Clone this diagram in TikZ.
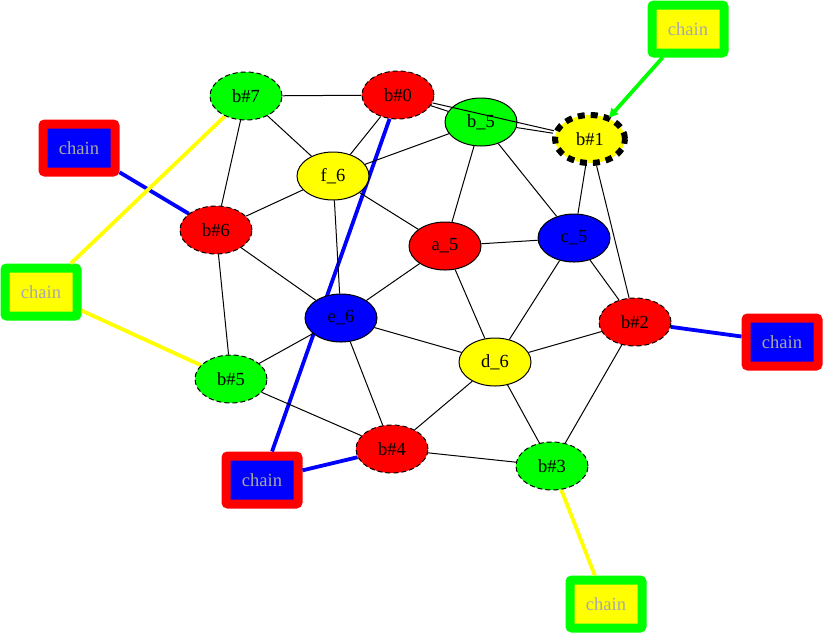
\documentclass[tikz,border=0pt]{standalone}
\usepackage{fontspec}
\setmainfont{Liberation Serif}
\usetikzlibrary{shapes.geometric,arrows.meta}
\definecolor{gG}{RGB}{0,255,0}
\definecolor{gR}{RGB}{255,0,0}
\definecolor{gB}{RGB}{0,0,255}
\definecolor{gY}{RGB}{255,255,0}
\definecolor{chaintxt}{RGB}{168,168,168}
\tikzset{
  vtx/.style={ellipse, draw=black, line width=1pt, minimum width=72pt, minimum height=48pt, inner sep=0pt,
    font=\fontsize{18.5}{20}\selectfont, text=black},
  bvtx/.style={vtx, dash pattern=on 5pt off 3pt},
  chainbox/.style={rectangle, rounded corners=2pt, line width=9pt, minimum width=72pt, minimum height=48pt,
    inner sep=0pt, font=\fontsize{18.5}{20}\selectfont, text=chaintxt},
  edge/.style={draw=black, line width=1pt},
  link/.style={line width=3.8pt},
}
\begin{document}
\begin{tikzpicture}[x=1pt,y=-1pt]
\useasboundingbox (0,0) rectangle (824,633);
% chain nodes
\node[chainbox, draw=gG, fill=gY] (ch1) at (688,29) {chain};
\node[chainbox, draw=gR, fill=gB] (ch2) at (79,148) {chain};
\node[chainbox, draw=gG, fill=gY] (ch3) at (41,292) {chain};
\node[chainbox, draw=gR, fill=gB] (ch4) at (262,480) {chain};
\node[chainbox, draw=gG, fill=gY] (ch5) at (606,604) {chain};
\node[chainbox, draw=gR, fill=gB] (ch6) at (782,342) {chain};
% coordinates of graph nodes
\coordinate (pb7) at (246,96);
\coordinate (pb0) at (398,95);
\coordinate (pf6) at (333,176);
\coordinate (pb5) at (481,122);
\coordinate (pb1) at (590,139);
\coordinate (pb6) at (216,230);
\coordinate (pa5) at (445,246);
\coordinate (pc5) at (574,238);
\coordinate (pbb2) at (635,322);
\coordinate (pd6) at (495,362);
\coordinate (pe6) at (341,318);
\coordinate (pbb5) at (231,379);
\coordinate (pb4) at (392,449);
\coordinate (pb3) at (552,466);
% invisible placeholders for link routing (drawn before nodes)
\node[vtx, draw=none] (b7) at (pb7) {};
\node[vtx, draw=none] (b0) at (pb0) {};
\node[vtx, draw=none] (b6) at (pb6) {};
\node[vtx, draw=none] (n5) at (pbb5) {};
\node[vtx, draw=none] (b4) at (pb4) {};
\node[vtx, draw=none] (b2) at (pbb2) {};
\node[vtx, draw=none] (b3) at (pb3) {};
% colored links
\draw[link, gB] (ch2) -- (b6);
\draw[link, gY] (ch3) -- (b7);
\draw[link, gY] (ch3) -- (n5);
\draw[link, gB] (ch4) -- (b4);
\draw[link, gB] (ch4) -- (b0);
\draw[link, gB] (ch6) -- (b2);
\draw[link, gY] (ch5) -- (b3);
% graph nodes
\node[bvtx, fill=gG] (B7) at (pb7) {b\#7};
\node[bvtx, fill=gR] (B0) at (pb0) {b\#0};
\node[vtx, fill=gY] (F6) at (pf6) {f\_6};
\node[vtx, fill=gG] (B5) at (pb5) {b\_5};
\node[vtx, fill=gY, line width=6pt, dash pattern=on 7pt off 6pt, minimum width=70pt, minimum height=48pt] (B1) at (pb1) {b\#1};
\node[bvtx, fill=gR] (B6) at (pb6) {b\#6};
\node[vtx, fill=gR] (A5) at (pa5) {a\_5};
\node[vtx, fill=gB] (C5) at (pc5) {c\_5};
\node[bvtx, fill=gR] (BB2) at (pbb2) {b\#2};
\node[vtx, fill=gY] (D6) at (pd6) {d\_6};
\node[vtx, fill=gB] (E6) at (pe6) {e\_6};
\node[bvtx, fill=gG] (BB5) at (pbb5) {b\#5};
\node[bvtx, fill=gR] (B4) at (pb4) {b\#4};
\node[bvtx, fill=gG] (B3) at (pb3) {b\#3};
% black edges
\draw[edge] (B7) -- (B0);
\draw[edge] (B7) -- (F6);
\draw[edge] (B7) -- (B6);
\draw[edge] (B0) -- (F6);
\draw[edge] (B0) -- (B5);
\draw[edge] (B0) -- (B1);
\draw[edge] (B5) -- (B1);
\draw[edge] (B5) -- (F6);
\draw[edge] (B5) -- (A5);
\draw[edge] (B5) -- (C5);
\draw[edge] (B1) -- (C5);
\draw[edge] (B1) -- (BB2);
\draw[edge] (F6) -- (B6);
\draw[edge] (F6) -- (A5);
\draw[edge] (F6) -- (E6);
\draw[edge] (B6) -- (E6);
\draw[edge] (B6) -- (BB5);
\draw[edge] (A5) -- (C5);
\draw[edge] (A5) -- (E6);
\draw[edge] (A5) -- (D6);
\draw[edge] (C5) -- (BB2);
\draw[edge] (C5) -- (D6);
\draw[edge] (E6) -- (D6);
\draw[edge] (E6) -- (BB5);
\draw[edge] (E6) -- (B4);
\draw[edge] (BB5) -- (B4);
\draw[edge] (D6) -- (BB2);
\draw[edge] (D6) -- (B4);
\draw[edge] (D6) -- (B3);
\draw[edge] (B4) -- (B3);
\draw[edge] (BB2) -- (B3);
% arrow to b#1
\draw[link, gG, -{Triangle[length=9pt,width=9pt]}, shorten >=-2pt] (ch1) -- (B1);
\end{tikzpicture}
\end{document}
